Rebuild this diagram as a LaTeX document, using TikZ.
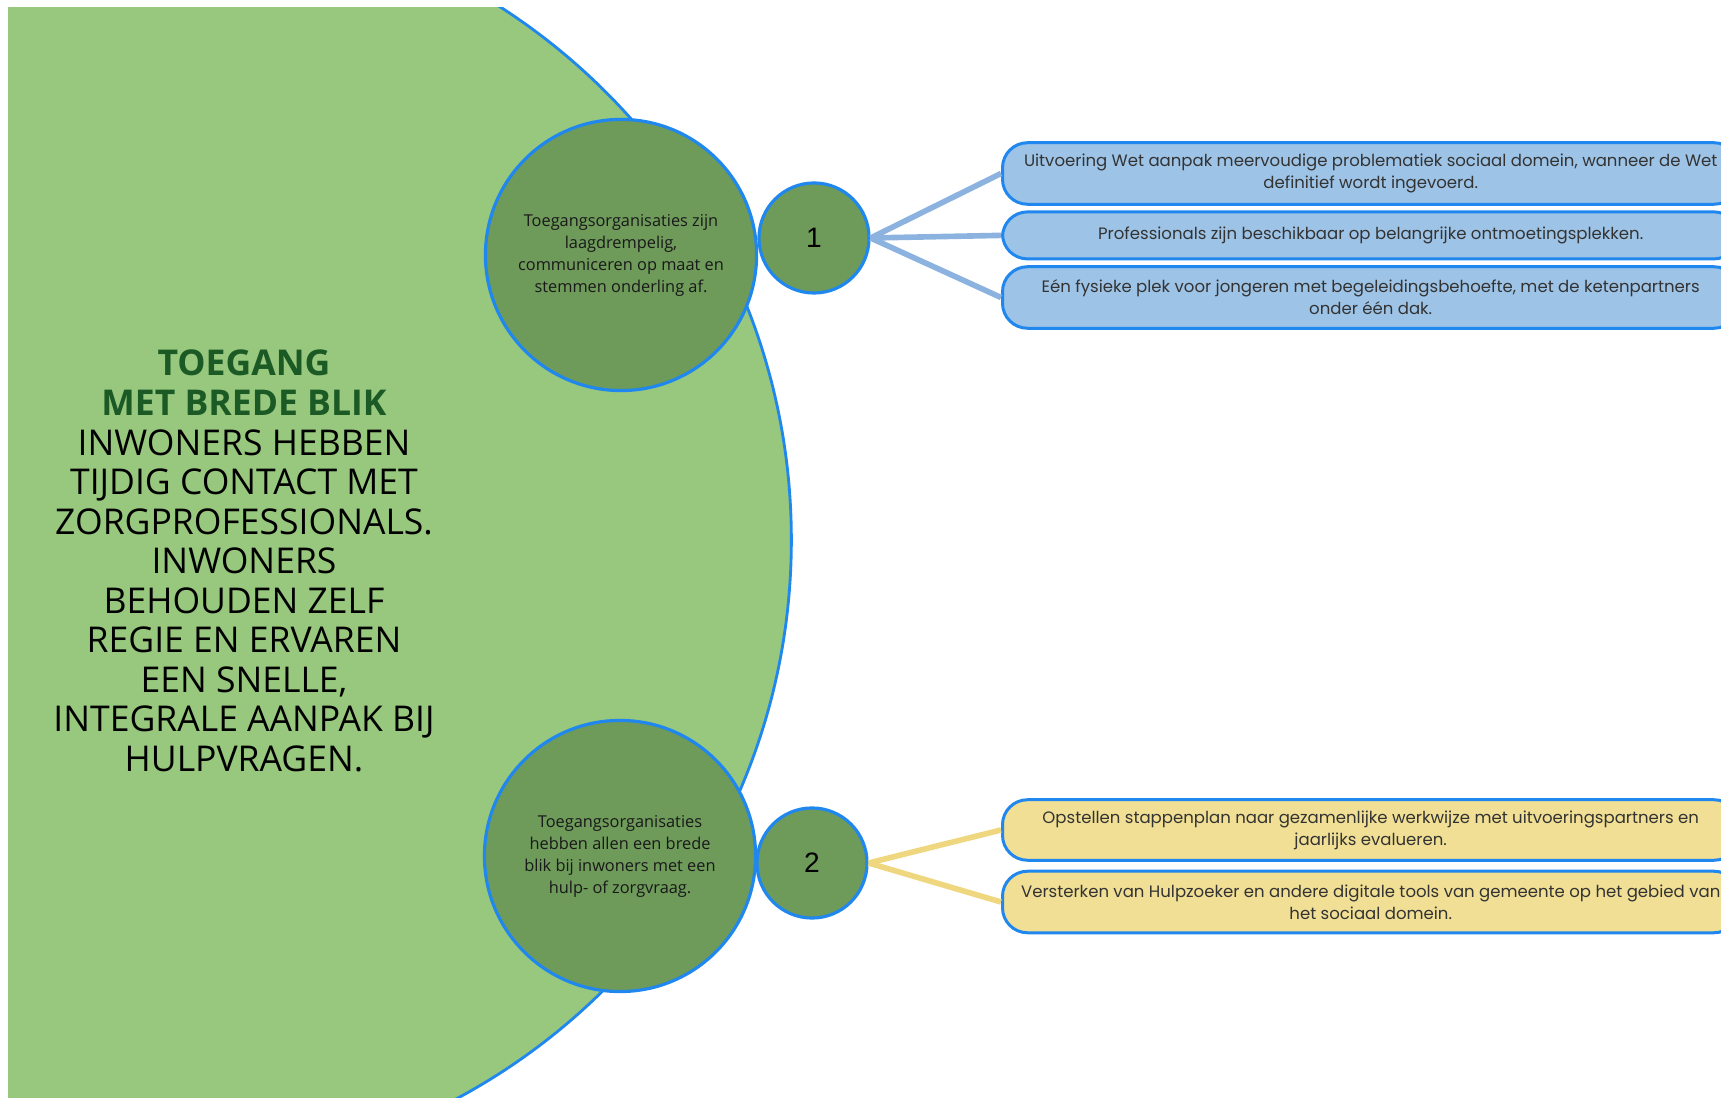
\documentclass[tikz,border=0pt]{standalone}
\usepackage{fontspec}
\usepackage{xcolor}
\usepackage{tikz}
\setmainfont{Open Sans}
\newfontfamily\boxfont{Poppins}
\newfontfamily\numfont{Liberation Sans}

\definecolor{lichtgroen}{HTML}{97C87E}
\definecolor{donkergroen}{HTML}{6E9A5A}
\definecolor{titelgroen}{HTML}{1B5A25}
\definecolor{rand}{HTML}{1F87EE}
\definecolor{vakblauw}{HTML}{9DC3E6}
\definecolor{vakgeel}{HTML}{F0DF94}
\definecolor{lijnblauw}{HTML}{8CB3E0}
\definecolor{lijngeel}{HTML}{EED77E}

\tikzset{
    doel/.style={circle, draw=rand, line width=0.9pt, fill=donkergroen, minimum size=2.71cm,
        inner sep=0pt, align=center, font=\fontsize{4.65pt}{6.26pt}\selectfont, text=black!90},
    nummer/.style={circle, draw=rand, line width=0.9pt, fill=donkergroen, minimum size=1.1cm,
        inner sep=0pt, font=\numfont\fontsize{8pt}{9pt}\selectfont},
    actie/.style={rectangle, rounded corners=0.25cm, draw=rand, line width=0.85pt, anchor=west,
        minimum width=7.36cm, inner sep=0pt, align=center,
        font=\boxfont\fontsize{4.7pt}{6.26pt}\selectfont, text=black!80},
    tak/.style={line width=1.6pt}
}

\begin{document}
\begin{tikzpicture}[x=0.01cm, y=-0.01cm]
        \useasboundingbox (0, 0) rectangle (1721, 1098);

        \begin{scope}
            \clip (8, 8) rectangle (1721, 1098);
            \fill[lichtgroen] (158, 540) circle[radius=6.33cm];
            \draw[rand, line width=0.8pt] (158, 540) circle[radius=6.33cm];
        \end{scope}

        \node[align=center, font=\fontsize{10.1pt}{11.24pt}\selectfont] (kern) at (244, 561)
            {\textcolor{titelgroen}{\textbf{TOEGANG}}\\
             \textcolor{titelgroen}{\textbf{MET BREDE BLIK}}\\
             INWONERS HEBBEN\\ TIJDIG CONTACT MET\\ ZORGPROFESSIONALS.\\ INWONERS\\
             BEHOUDEN ZELF\\ REGIE EN ERVAREN\\ EEN SNELLE,\\ INTEGRALE AANPAK BIJ\\ HULPVRAGEN.};

        \node[doel] (doel1) at (621, 255) {Toegangsorganisaties zijn\\ laagdrempelig,\\
            communiceren op maat en\\ stemmen onderling af.};
        \node[doel] (doel2) at (620, 856) {Toegangsorganisaties\\ hebben allen een brede\\
            blik bij inwoners met een\\ hulp- of zorgvraag.};

        \node[nummer] (nr1) at (814, 238) {1};
        \node[nummer] (nr2) at (812, 863) {2};

        \begin{scope}
            \clip (0, 0) rectangle (1721, 1098);
            \node[actie, fill=vakblauw, minimum height=0.615cm] (a1) at (1001, 173.5)
                {Uitvoering Wet aanpak meervoudige problematiek sociaal domein, wanneer de Wet\\ definitief wordt ingevoerd.};
            \node[actie, fill=vakblauw, minimum height=0.47cm] (a2) at (1001, 235.4)
                {Professionals zijn beschikbaar op belangrijke ontmoetingsplekken.};
            \node[actie, fill=vakblauw, minimum height=0.615cm] (a3) at (1001, 297.5)
                {Eén fysieke plek voor jongeren met begeleidingsbehoefte, met de ketenpartners\\ onder één dak.};
            \node[actie, fill=vakgeel, minimum height=0.605cm] (a4) at (1001, 830)
                {Opstellen stappenplan naar gezamenlijke werkwijze met uitvoeringspartners en\\ jaarlijks evalueren.};
            \node[actie, fill=vakgeel, minimum height=0.615cm] (a5) at (1001, 902)
                {Versterken van Hulpzoeker en andere digitale tools van gemeente op het gebied van\\ het sociaal domein.};
        \end{scope}

        \foreach \a in {a1, a2, a3}
            \draw[tak, lijnblauw] (nr1.east) -- (\a.west);
        \foreach \a in {a4, a5}
            \draw[tak, lijngeel] (nr2.east) -- (\a.west);

    \end{tikzpicture}
\end{document}
